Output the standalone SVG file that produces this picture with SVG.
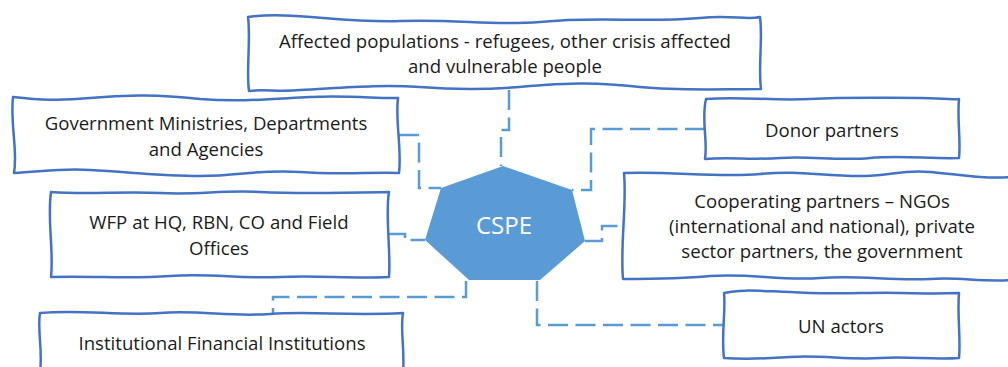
<svg xmlns="http://www.w3.org/2000/svg" width="1008" height="367" viewBox="0 0 1008 367">
  <style>
    .box { fill: #ffffff; stroke: #4472C4; stroke-width: 2.5; stroke-linejoin: round; }
    .lbl { font-family: "Open Sans", "Liberation Sans", sans-serif; font-size: 18.6px; fill: #1b1b1b; text-anchor: middle; }
    .link { fill: none; stroke: #5B9BD5; stroke-width: 2.5; stroke-dasharray: 20 7.5; }
    .hub { fill: #5B9BD5; }
    .hubtxt { font-family: "Open Sans", "Liberation Sans", sans-serif; font-size: 24px; fill: #ffffff; text-anchor: middle; }
  </style>
  <rect width="1008" height="367" fill="#ffffff"/>

  <!-- dashed elbow connectors to the central hub -->
  <g id="connectors">
    <path class="link" d="M509,90 V130 H501 V166"/>
    <path class="link" d="M705,129 H591 V190 H572"/>
    <path class="link" d="M585,241 H602 V226 H623"/>
    <path class="link" d="M537,281 V325 H723"/>
    <path class="link" d="M466,281 V297 H273 V313"/>
    <path class="link" d="M389,234 H405 V240 H425"/>
    <path class="link" d="M399,135 H419 V188 H441"/>
  </g>

  <g id="hub-cspe">
    <polygon class="hub" points="503,166 572,190 585,241 540,280 469,280 425,240 441,188"/>
    <text class="hubtxt" x="504" y="234">CSPE</text>
  </g>

  <g id="node-affected">
    <path class="box" d="M248,17 C290,11 340,23 400,21 C460,19 490,26 540,22 C600,16 640,23 700,18 C730,15 748,20 760,17 C763,40 758,65 761,89 C720,89 680,91 640,87 C600,83 570,82 530,86 C490,90 460,90 420,87 C380,84 340,88 300,90 C280,92 262,89 249,91 C246,70 251,40 248,17 Z"/>
    <text class="lbl" x="505" y="48">Affected populations - refugees, other crisis affected</text>
    <text class="lbl" x="505" y="73">and vulnerable people</text>
  </g>

  <g id="node-government">
    <path class="box" d="M13,97 C40,100 60,101 90,98 C130,94 160,95 200,99 C240,102 270,99 310,97 C350,95 380,99 398,98 C395,120 402,150 399,173 C370,172 340,175 300,172 C260,169 240,176 200,176 C160,176 130,172 90,170 C60,168 40,172 14,173 C18,150 10,125 13,97 Z"/>
    <text class="lbl" x="206" y="130">Government Ministries, Departments</text>
    <text class="lbl" x="206" y="156">and Agencies</text>
  </g>

  <g id="node-wfp">
    <path class="box" d="M51,192 C90,195 120,191 160,193 C200,195 220,190 260,192 C300,194 340,193 389,192 C385,215 391,250 389,277 C350,279 320,275 280,277 C240,279 210,273 170,276 C130,279 100,276 51,277 C54,250 47,220 51,192 Z"/>
    <text class="lbl" x="219" y="229">WFP at HQ, RBN, CO and Field</text>
    <text class="lbl" x="219" y="255">Offices</text>
  </g>

  <g id="node-institutional">
    <path class="box" d="M40,313 C80,309 120,316 160,313 C200,310 230,317 270,314 C310,311 350,316 403,313 C400,330 405,350 403,372 L40,372 C43,350 37,330 40,313 Z"/>
    <text class="lbl" x="222" y="350">Institutional Financial Institutions</text>
  </g>

  <g id="node-donor">
    <path class="box" d="M706,99 C740,96 770,101 810,99 C850,97 880,98 920,98 C940,98 950,100 959,99 C957,120 961,140 959,158 C930,159 900,155 870,158 C840,161 810,156 780,158 C750,160 730,157 705,159 C708,140 701,120 706,99 Z"/>
    <text class="lbl" x="832" y="137">Donor partners</text>
  </g>

  <g id="node-cooperating">
    <path class="box" d="M624,173 C670,171 720,178 760,174 C800,170 820,176 860,176 C890,177 900,169 930,172 C960,175 985,179 1012,177 L1012,280 C980,282 960,277 930,279 C890,281 860,275 820,278 C780,281 750,273 710,276 C680,279 650,279 623,279 C620,245 627,205 624,173 Z"/>
    <text class="lbl" x="822" y="208">Cooperating partners – NGOs</text>
    <text class="lbl" x="822" y="233">(international and national), private</text>
    <text class="lbl" x="822" y="258">sector partners, the government</text>
  </g>

  <g id="node-un">
    <path class="box" d="M724,293 C740,289 760,291 790,292 C830,295 870,292 900,293 C930,294 945,293 959,293 C957,315 961,340 959,358 C930,360 910,356 880,358 C850,360 820,355 790,357 C760,359 740,359 724,358 C721,335 726,310 724,293 Z"/>
    <text class="lbl" x="841" y="333">UN actors</text>
  </g>
</svg>
